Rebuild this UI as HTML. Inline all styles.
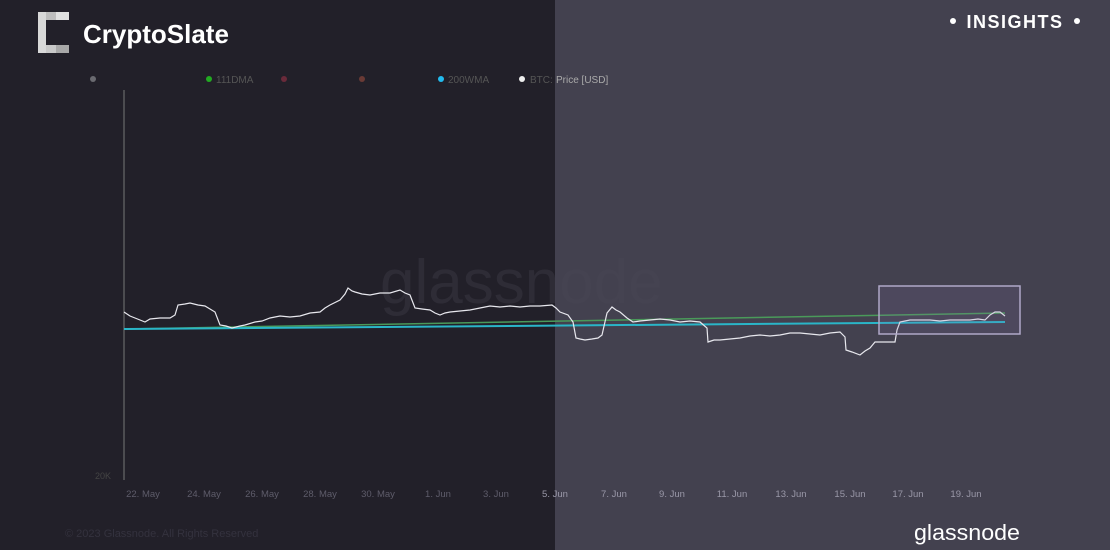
<!DOCTYPE html>
<html><head><meta charset="utf-8"><style>
body{margin:0;width:1110px;height:550px;overflow:hidden;background:#222029;font-family:"Liberation Sans",sans-serif}
</style></head><body>
<svg width="1110" height="550" xmlns="http://www.w3.org/2000/svg" style="position:absolute;left:0;top:0">
<rect x="0" y="0" width="555" height="550" fill="#222029"/>
<rect x="555" y="0" width="555" height="550" fill="#43414f"/>
<rect x="38" y="12" width="8" height="41" fill="#d8d8d8"/>
<rect x="46" y="12" width="10" height="8" fill="#bdbdbd"/>
<rect x="56" y="12" width="13" height="8" fill="#e0e0e0"/>
<rect x="46" y="45" width="10" height="8" fill="#c8c8c8"/>
<rect x="56" y="45" width="13" height="8" fill="#a8a8a8"/>
<text x="83" y="43" font-size="26" font-weight="bold" fill="#fff">CryptoSlate</text>
<circle cx="953" cy="21" r="3" fill="#fff"/><circle cx="1077" cy="21" r="3" fill="#fff"/>
<text x="1015" y="28" font-size="18" font-weight="bold" fill="#fff" text-anchor="middle" letter-spacing="1.5">INSIGHTS</text>
<g font-size="10" fill="#5a5866">
<circle cx="93" cy="79" r="3" fill="#6a6a70"/>
<circle cx="209" cy="79" r="3" fill="#22aa22"/><text x="216" y="83" fill="#555">111DMA</text>
<circle cx="284" cy="79" r="3" fill="#6a2a3a"/>
<circle cx="362" cy="79" r="3" fill="#6a3a35"/>
<circle cx="441" cy="79" r="3" fill="#22bbee"/><text x="448" y="83" fill="#555">200WMA</text>
<circle cx="522" cy="79" r="3" fill="#eee"/><text x="530" y="83" fill="#555">BTC: </text><text x="556" y="83" fill="#aaa">Price [USD]</text>
</g>
<line x1="124" y1="90" x2="124" y2="480" stroke="#777" stroke-width="1"/>
<text x="95" y="479" font-size="9" fill="#444">20K</text>
<text x="380" y="303" font-size="62" fill="#4a4856" opacity="0.3">glassnode</text>
<line x1="124" y1="329" x2="1005" y2="313" stroke="#4a9a5a" stroke-width="1.5"/>
<line x1="124" y1="329" x2="1005" y2="322" stroke="#2ab6c8" stroke-width="2"/>
<polyline fill="none" stroke="#e8e8ee" stroke-width="1.2" points="124,312 130,316 135,318 140,320 145,322 150,319 160,318 170,318 175,315 178,305 185,304 190,303 198,305 205,306 210,309 215,312 220,325 226,326 232,328 240,326 245,325 255,322 262,321 270,318 280,316 290,317 300,316 310,313 320,312 325,308 330,305 340,300 345,294 348,288 352,291 355,292 362,294 370,295 380,293 390,293 400,290 405,293 410,295 415,308 422,309 430,310 435,313 440,315 445,313 450,312 460,311 470,310 480,308 490,306 500,307 510,306 520,307 530,306 540,306 552,305 556,308 560,312 568,315 573,322 576,338 580,339 585,340 592,339 598,338 602,335 607,313 612,307 616,310 620,312 627,318 633,322 640,321 650,320 660,319 670,320 675,321 680,322 690,321 700,322 707,328 708,342 714,340 720,340 730,339 740,338 750,336 760,335 770,336 780,335 790,333 800,333 810,334 820,335 830,333 840,332 845,337 846,350 852,352 860,355 865,351 870,348 875,342 885,342 895,342 897,330 900,322 905,321 910,320 920,320 930,320 940,321 950,320 960,320 970,320 978,319 985,320 990,315 995,312 1000,312 1005,316"/>
<rect x="879" y="286" width="141" height="48" fill="#8870b0" fill-opacity="0.15" stroke="#b0a8c8" stroke-width="1.5"/>
<g font-size="9.5" fill="#5e5c6a" text-anchor="middle" font-family="Liberation Sans Narrow, Liberation Sans, sans-serif">
<text x="143" y="497">22. May</text><text x="204" y="497">24. May</text><text x="262" y="497">26. May</text><text x="320" y="497">28. May</text><text x="378" y="497">30. May</text><text x="438" y="497">1. Jun</text><text x="496" y="497">3. Jun</text><text x="555" y="497" fill="#9a98a8">5. Jun</text><text x="614" y="497" fill="#9a98a8">7. Jun</text><text x="672" y="497" fill="#9a98a8">9. Jun</text><text x="732" y="497" fill="#9a98a8">11. Jun</text><text x="791" y="497" fill="#9a98a8">13. Jun</text><text x="850" y="497" fill="#9a98a8">15. Jun</text><text x="908" y="497" fill="#9a98a8">17. Jun</text><text x="966" y="497" fill="#9a98a8">19. Jun</text>
</g>
<text x="65" y="537" font-size="11" fill="#34323e">© 2023 Glassnode. All Rights Reserved</text>
<text x="1020" y="540" font-size="22" fill="#fff" text-anchor="end" textLength="106" lengthAdjust="spacingAndGlyphs">glassnode</text>
</svg>
</body></html>
